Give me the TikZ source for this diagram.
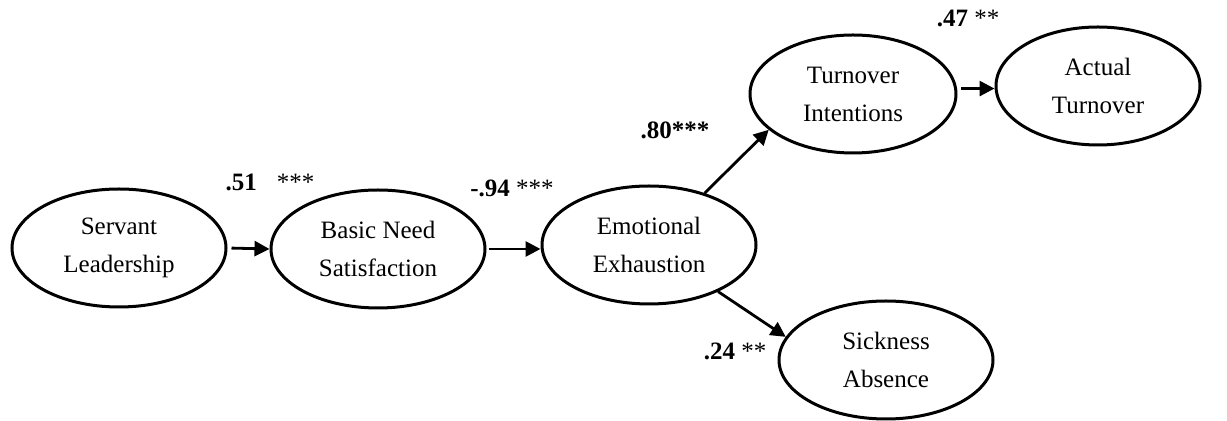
\documentclass[tikz,border=0pt]{standalone}
\usepackage{fontspec}
\setmainfont{Liberation Serif}
\usetikzlibrary{arrows.meta,shapes.geometric,calc}

\begin{document}
\begin{tikzpicture}[
    x=0.5pt, y=-0.5pt,
    latent/.style={
      ellipse,
      draw=black,
      line width=1.5pt,
      minimum width=107pt,
      minimum height=59pt,
      inner sep=0pt,
      align=center,
      font=\fontsize{12.5pt}{19pt}\selectfont
    },
    pathline/.style={
      -{Triangle[length=7.5pt,width=7.5pt]},
      line width=1.4pt,
      black
    },
    coef/.style={
      inner sep=0pt,
      font=\fontsize{12.5pt}{14pt}\selectfont\bfseries
    }
  ]
  \useasboundingbox (0,0) rectangle (1227,421);

  % latente variabelen
  \node[latent] (sl) at (119,248) {Servant\\Leadership};
  \node[latent] (bns) at (378,249) {Basic Need\\Satisfaction};
  \node[latent] (ee) at (649,245) {Emotional\\Exhaustion};
  \node[latent, minimum width=103pt] (ti) at (853,94) {Turnover\\Intentions};
  \node[latent, minimum width=102pt] (at) at (1098,86) {Actual\\Turnover};
  \node[latent] (sa) at (886,360) {Sickness\\Absence};

  % paden
  \draw[pathline, shorten <=2pt] (sl.east) -- (bns.west);
  \draw[pathline, shorten <=1pt] (bns.east) -- (ee.west |- bns.east);
  \draw[pathline] (ee.43) -- (ti.203);
  \draw[pathline] (ee.326) -- (sa.167);
  \draw[pathline, shorten <=2pt] (ti.3) -- (ti.3 -| at.west);

  % coefficienten
  \node[coef] (c1) at (270,182) {.51\hspace{10pt}\mdseries***};
  \node[coef] (c2) at (512,188) {-.94 \mdseries***};
  \node[coef] (c3) at (675,130) {.80***};
  \node[coef] (c4) at (968,18) {.47 \mdseries**};
  \node[coef] (c5) at (735,351) {.24 \mdseries**};

\end{tikzpicture}
\end{document}
